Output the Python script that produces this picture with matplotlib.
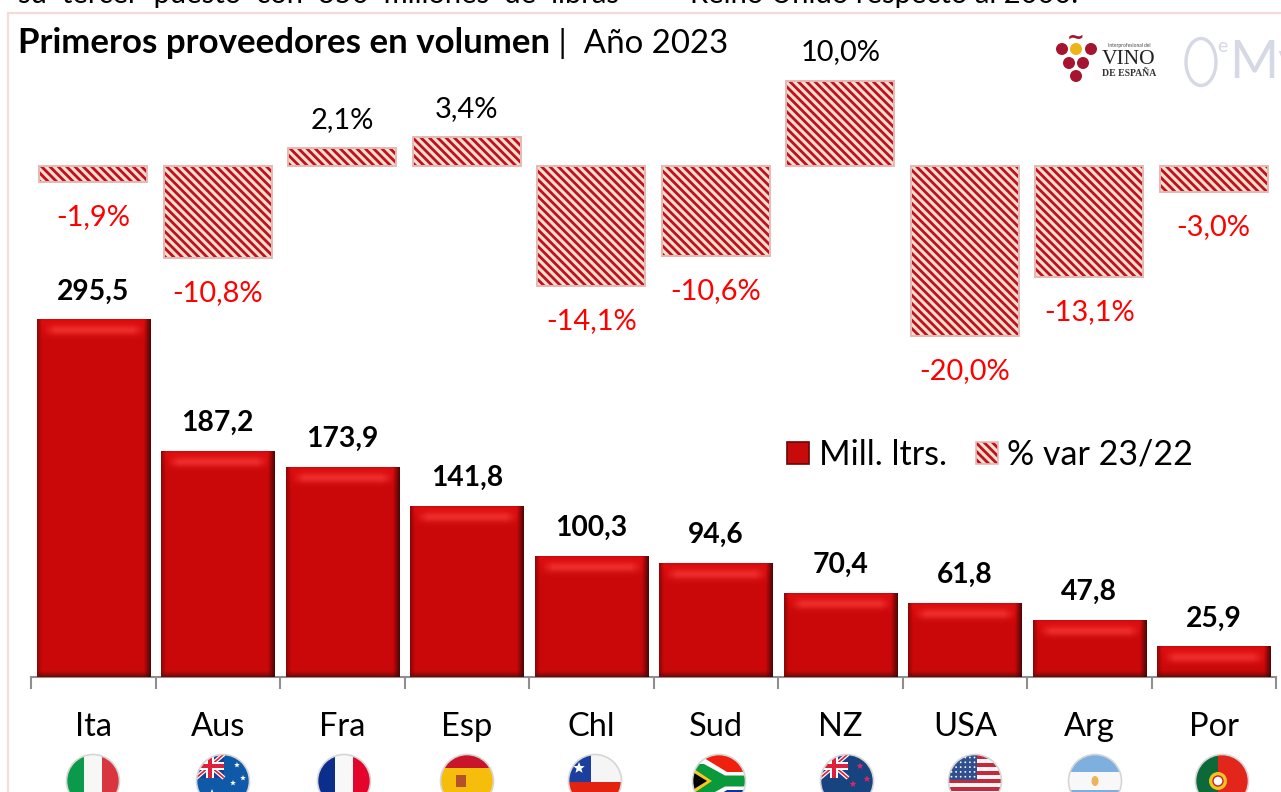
import numpy as np
import matplotlib
matplotlib.use("Agg")
import matplotlib.pyplot as plt
from matplotlib.patches import Rectangle, Circle, Polygon, Patch, Ellipse
from matplotlib.legend_handler import HandlerTuple

# ---------- data ----------
countries = ["Ita", "Aus", "Fra", "Esp", "Chl", "Sud", "NZ", "USA", "Arg", "Por"]
volumes = [295.5, 187.2, 173.9, 141.8, 100.3, 94.6, 70.4, 61.8, 47.8, 25.9]
variation = [-1.9, -10.8, 2.1, 3.4, -14.1, -10.6, 10.0, -20.0, -13.1, -3.0]
legend_labels = ["Mill. ltrs.", "% var 23/22"]

FONT = "Lato"
plt.rcParams["font.family"] = [FONT, "DejaVu Sans"]
plt.rcParams["hatch.linewidth"] = 2.0

W, H = 1281, 792
fig = plt.figure(figsize=(W / 100, H / 100), dpi=100, facecolor="white")


def px_axes(left, top, right, bottom, **kw):
    return fig.add_axes([left / W, 1 - bottom / H, (right - left) / W, (bottom - top) / H], **kw)


# Volume axes: axis line at y=677px, 1.2129 px per million litres, bars clipped just above zero
AX_L, AX_R, AX_T, AX_B = 31, 1276, 30, 677
BAND = (AX_R - AX_L) / len(countries)
VSCALE = 1.2129
YMIN = 1.15
ax = px_axes(AX_L, AX_T, AX_R, AX_B)
ax.set_facecolor("none")
x = np.arange(len(countries))
ax.set_xlim(-0.5, len(countries) - 0.5)
ymax = YMIN + (AX_B - AX_T) / VSCALE
ax.set_ylim(YMIN, ymax)
for s in ["top", "left", "right"]:
    ax.spines[s].set_visible(False)
ax.spines["bottom"].set_color("#8f8f8f")
ax.spines["bottom"].set_linewidth(1.5)
ax.set_yticks([])
ax.set_xticks(np.arange(len(countries) + 1) - 0.5)
ax.set_xticklabels([])
ax.tick_params(axis="x", which="major", length=8.6, width=1.5, color="#8f8f8f")
ax.set_xticks(x, countries, minor=True)
ax.tick_params(axis="x", which="minor", length=0, pad=25.5, labelsize=23.5, labelcolor="black")

bars = ax.bar(x, volumes, width=0.908, color="#cc0808", linewidth=0, zorder=2)


def bevel(w, h):
    yy = np.arange(h) + 0.5
    xx = np.arange(w) + 0.5
    base = np.array([202, 8, 10], float)
    img = np.ones((h, w, 3)) * base
    top_fill = np.clip(1 - yy / 22, 0, 1)[:, None, None] * 0.9
    img = img * (1 - top_fill) + top_fill * np.array([226, 14, 16])
    side = (np.clip((xx - 6) / 12, 0, 1) * np.clip((w - xx - 6) / 12, 0, 1))[None, :, None]
    top = np.exp(-((yy - 11) / 5.0) ** 2)[:, None, None] * side
    img = img + top * np.array([24, 34, 30])
    edge_t = np.clip(1 - yy / 2, 0, 1)[:, None, None] * 0.8
    img = img * (1 - edge_t) + edge_t * np.array([190, 10, 12])
    edge_b = np.clip(1 - (h - yy) / 7, 0, 1)[:, None, None] ** 1.5
    img = img * (1 - edge_b) + edge_b * np.array([100, 10, 8])
    edge_l = np.clip(1 - xx / 5, 0, 1)[None, :, None] * 0.8
    img = img * (1 - edge_l) + edge_l * np.array([120, 6, 6])
    edge_r = np.clip(1 - (w - xx) / 7, 0, 1)[None, :, None] * 0.95
    img = img * (1 - edge_r) + edge_r * np.array([65, 6, 6])
    return np.clip(img, 0, 255).astype(np.uint8)


for b in bars:
    wpx = int(round(b.get_width() * BAND))
    hpx = int(round((b.get_height() - YMIN) * VSCALE))
    ax.imshow(bevel(wpx, hpx), extent=(b.get_x(), b.get_x() + b.get_width(), YMIN, b.get_height()),
              aspect="auto", interpolation="bilinear", zorder=3)
ax.set_xlim(-0.5, len(countries) - 0.5)
ax.set_ylim(YMIN, ymax)

for xi, v in zip(x, volumes):
    ax.annotate(f"{v:.1f}".replace(".", ","), (xi, v), xytext=(0, 20.5), textcoords="offset points",
                ha="center", va="center", fontsize=20.3, fontweight="bold", color="black", zorder=5)

# Variation axes: zero at y=166px, 8.5 px per percentage point
ax2 = px_axes(AX_L, AX_T, AX_R, AX_B)
ax2.patch.set_visible(False)
ax2.axis("off")
ax2.set_xlim(-0.5, len(countries) - 0.5)
ax2.set_ylim(-(AX_B - 166) / 8.5, (166 - AX_T) / 8.5)
CREAM, STRIPE, BORDER = "#eee2c8", "#c40c22", "#e6b8b6"
HATCH = "\\\\\\\\"
ax2.bar(x, variation, width=0.868, color=CREAM, edgecolor=STRIPE, hatch=HATCH, linewidth=0, zorder=2)
ax2.bar(x, variation, width=0.868, fill=False, edgecolor=BORDER, linewidth=1.4, zorder=3)
for xi, v in zip(x, variation):
    neg = v < 0
    ax2.annotate(f"{v:.1f}%".replace(".", ","), (xi, v), xytext=(0, -25.3 if neg else 20.5),
                 textcoords="offset points", ha="center", va="center", fontsize=20.9,
                 color="#ff0000" if neg else "black", zorder=5)

# Pixel overlay for frame, text, logos and flags
ov = px_axes(0, 0, W, H)
ov.patch.set_visible(False)
ov.set_xlim(0, W)
ov.set_ylim(H, 0)
ov.axis("off")

FRAME = "#f3dcd8"
ov.plot([8, 8, W + 5], [H + 5, 13, 13], color=FRAME, lw=1.6, solid_joinstyle="miter", clip_on=False)

# Cropped running text above the chart
ov.text(18, 3, "su  tercer  puesto  con  350  millones  de  libras", fontsize=21, va="baseline", color="black")
ov.text(690, 3, "Reino Unido respecto al 2000.", fontsize=21, va="baseline", color="black")

t1 = ov.text(18, 53, "Primeros proveedores en volumen", fontsize=25.1, fontweight="bold", va="baseline", color="black")
ov.annotate(" |  Año 2023", xy=(1, 0), xycoords=t1, va="bottom", ha="left", fontsize=23.8, color="black",
            annotation_clip=False)

# Legend
vol_h = (Patch(facecolor="#c90a0a", edgecolor="#6d0505", linewidth=1.2),)
var_h = (Patch(facecolor=CREAM, edgecolor=STRIPE, hatch=HATCH, linewidth=0),
         Patch(fill=False, edgecolor=BORDER, linewidth=1.2))
ov.legend([vol_h, var_h], legend_labels, handler_map={tuple: HandlerTuple(ndivide=1, pad=0)},
          loc="center left", bbox_to_anchor=(787, 455), bbox_transform=ov.transData, ncol=2,
          frameon=False, borderpad=0, borderaxespad=0, fontsize=24.5,
          handlelength=0.65, handleheight=0.65, handletextpad=0.28, columnspacing=0.85)


# ---------- flags ----------
FLAG_CY, FLAG_R = 781, 26.5
flag_cx = [93, 223, 344, 467, 595, 719, 847, 975, 1095, 1222]


def add(patch, clip):
    ov.add_patch(patch)
    patch.set_clip_path(clip)
    return patch


def rect(clip, x0, y0, w, h, c, z=3):
    add(Rectangle((x0, y0), w, h, fc=c, ec="none", zorder=z), clip)


def poly(clip, pts, c, z=4):
    add(Polygon(pts, closed=True, fc=c, ec="none", zorder=z), clip)


def star(clip, cx, cy, r, c):
    pts = []
    for k in range(10):
        a = -np.pi / 2 + k * np.pi / 5
        rr = r if k % 2 == 0 else r * 0.42
        pts.append((cx + rr * np.cos(a), cy + rr * np.sin(a)))
    poly(clip, pts, c, z=6)


def union_jack(clip, cx, cy):
    l, t, w, h = cx - 27, cy - 27, 28, 24
    rect(clip, l, t, w, h, "#1d3f8f", 4)
    for a, b in [((l, t), (l + w, t + h)), ((l, t + h), (l + w, t))]:
        ov.plot(*zip(a, b), color="white", lw=3, zorder=5, clip_path=clip, solid_capstyle="butt")
        ov.plot(*zip(a, b), color="#e0203a", lw=1.2, zorder=5, clip_path=clip, solid_capstyle="butt")
    rect(clip, l, t + h / 2 - 4, w, 8, "white", 5)
    rect(clip, l + w / 2 - 4, t, 8, h, "white", 5)
    rect(clip, l, t + h / 2 - 2.2, w, 4.4, "#e0203a", 5)
    rect(clip, l + w / 2 - 2.2, t, 4.4, h, "#e0203a", 5)


def draw_flag(code, cx, cy, r):
    clip = Circle((cx, cy), r, transform=ov.transData)
    if code == "Ita":
        rect(clip, cx - r, cy - r, 2 * r / 3, 2 * r, "#0b9a4c")
        rect(clip, cx - r / 3, cy - r, 2 * r / 3, 2 * r, "#f7f7f5")
        rect(clip, cx + r / 3, cy - r, 2 * r / 3, 2 * r, "#d8353f")
    elif code == "Aus":
        rect(clip, cx - r, cy - r, 2 * r, 2 * r, "#0f5aa8")
        union_jack(clip, cx, cy)
        star(clip, cx - 11, cy + 13, 5, "white")
        for dx, dy in [(14, -16), (20, -3), (10, 2), (15, 17)]:
            star(clip, cx + dx, cy + dy, 3, "white")
    elif code == "Fra":
        rect(clip, cx - r, cy - r, 2 * r / 3, 2 * r, "#0b2e8a")
        rect(clip, cx - r / 3, cy - r, 2 * r / 3, 2 * r, "#f8f8f8")
        rect(clip, cx + r / 3, cy - r, 2 * r / 3, 2 * r, "#e4052c")
    elif code == "Esp":
        rect(clip, cx - r, cy - r, 2 * r, 2 * r, "#c9152c")
        rect(clip, cx - r, cy - 13, 2 * r, 26, "#f6bd0b")
        rect(clip, cx - 11, cy - 6, 10, 12, "#b5502a", 5)
    elif code == "Chl":
        rect(clip, cx - r, cy - r, 2 * r, r + 1, "#f5f5f5")
        rect(clip, cx - r, cy + 1, 2 * r, r, "#e3230f")
        rect(clip, cx - r, cy - r, 22, r + 1, "#1c3f9e", 4)
        star(clip, cx - 16, cy - 13, 6, "white")
    elif code == "Sud":
        rect(clip, cx - r, cy - r, 2 * r, r, "#f0200f")
        rect(clip, cx - r, cy, 2 * r, r, "#10309c")
        poly(clip, [(cx - r, cy - 23), (cx - 15, cy - 23), (cx + 8, cy - 9), (cx + r, cy - 9), (cx + r, cy + 9),
                    (cx + 8, cy + 9), (cx - 15, cy + 23), (cx - r, cy + 23)], "white")
        poly(clip, [(cx - r, cy - 17), (cx - 15, cy - 17), (cx + 6, cy - 5.5), (cx + r, cy - 5.5), (cx + r, cy + 5.5),
                    (cx + 6, cy + 5.5), (cx - 15, cy + 17), (cx - r, cy + 17)], "#0a9a3c", 5)
        poly(clip, [(cx - r, cy - 13), (cx - 7, cy), (cx - r, cy + 13)], "#f7c81e", 6)
        poly(clip, [(cx - r, cy - 9), (cx - 12, cy), (cx - r, cy + 9)], "black", 7)
    elif code == "NZ":
        rect(clip, cx - r, cy - r, 2 * r, 2 * r, "#17437f")
        union_jack(clip, cx, cy)
        for dx, dy in [(13, -15), (20, -2), (6, 3), (13, 18)]:
            star(clip, cx + dx, cy + dy, 3.6, "#d9286a")
    elif code == "USA":
        rect(clip, cx - r, cy - r, 2 * r, 2 * r, "#f6f6f6")
        for k in range(7):
            rect(clip, cx - r, cy - r + k * 2 * r / 6.5, 2 * r, r / 6.5, "#c8283c", 4)
        rect(clip, cx - r, cy - r, 28, 25, "#2f4f8f", 5)
        for i in range(6):
            for j in range(5):
                ov.add_patch(Circle((cx - r + 3 + i * 4.6, cy - r + 3 + j * 4.8), 0.9, fc="white", ec="none",
                                    zorder=6, clip_path=clip))
    elif code == "Arg":
        rect(clip, cx - r, cy - r, 2 * r, 2 * r, "#7db0df")
        rect(clip, cx - r, cy - 9, 2 * r, 18, "#f8f8f8", 4)
        add(Ellipse((cx, cy), 7, 10, fc="#eeb35a", ec="none", zorder=5), clip)
    elif code == "Por":
        rect(clip, cx - r, cy - r, 2 * r * 0.42, 2 * r, "#0c6a3a")
        rect(clip, cx - r + 2 * r * 0.42, cy - r, 2 * r * 0.58, 2 * r, "#e2261c")
        add(Circle((cx - 4, cy), 9, fc="#f3c41f", ec="none", zorder=5), clip)
        add(Circle((cx - 4, cy), 5, fc="white", ec="#c8202a", lw=1, zorder=6), clip)
    ov.add_patch(Circle((cx, cy), r, fc="none", ec="#d6d6d6", lw=1.2, zorder=9, clip_on=False))


for code, cx in zip(countries, flag_cx):
    draw_flag(code, cx, FLAG_CY, FLAG_R)

# ---------- logos ----------
for gx, gy, gc in [(1062, 49, "#a5152f"), (1076, 49, "#eeb318"), (1091, 49, "#a5152f"),
                   (1069, 63, "#a5152f"), (1083, 63, "#a5152f"), (1076, 76, "#a5152f")]:
    ov.add_patch(Circle((gx, gy), 6, fc=gc, ec="none", zorder=4))
ov.text(1076, 38, "~", fontsize=15, ha="center", va="center", color="#a5152f", fontweight="bold",
        family="DejaVu Sans")
ov.text(1129, 46, "Interprofesional del", fontsize=3.5, ha="center", va="center", color="#444444")
ov.text(1129, 60, "VINO", fontsize=15.5, ha="center", va="center", color="#222222", family="Liberation Serif")
ov.text(1129, 73, "DE ESPAÑA", fontsize=7, ha="center", va="center", color="#333333",
        family="Liberation Serif", fontweight="bold")

LOGO2 = "#d5d8e5"
ov.add_patch(Ellipse((1201, 62), 30, 47, fc="none", ec=LOGO2, lw=2.4, zorder=4))
ov.text(1222, 47, "e", fontsize=14, ha="center", va="center", color=LOGO2)
ov.text(1229, 63, "Mv", fontsize=38, ha="left", va="center", color=LOGO2)

fig.savefig("out.png", dpi=100, facecolor="white")
